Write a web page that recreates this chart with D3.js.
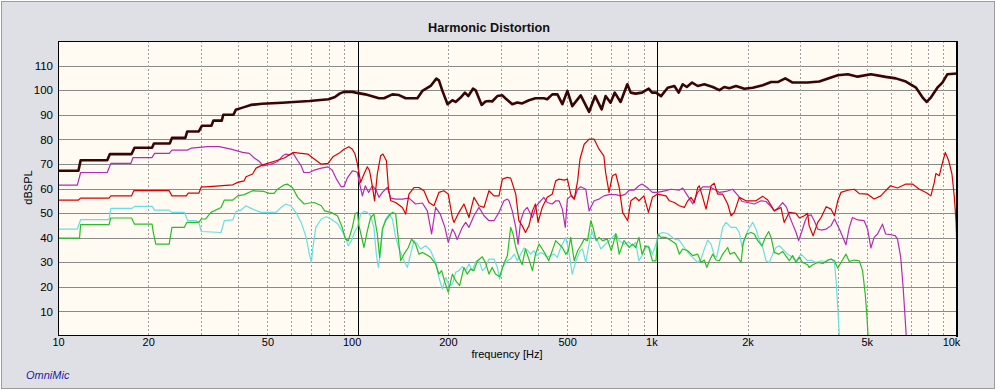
<!DOCTYPE html>
<html>
<head>
<meta charset="utf-8">
<script src="https://cdn.jsdelivr.net/npm/d3@7/dist/d3.min.js"></script>
<style>
  html, body { margin: 0; padding: 0; background: #ffffff; }
  svg { display: block; }
  text { font-family: "Liberation Sans", Arial, sans-serif; }
</style>
</head>
<body>
<svg id="chart" width="997" height="390"></svg>
<script>
// ---------- DATA ([frequency Hz, dBSPL]) ----------
const fundamental = [[10,67.2],[11.7,67.2],[11.9,71.5],[14.6,71.5],[14.9,74],[17.6,74],[18,76.6],[20.6,76.6],[20.9,78.3],[23.6,78.3],[24,80.6],[26.6,80.6],[27,83.2],[29.5,83.2],[30.2,85.5],[32.5,85.5],[33,87.6],[35.2,87.6],[35.6,90],[38.5,90],[39.2,92],[41.3,92.9],[44,94],[48,94.5],[56,94.9],[69,95.6],[80,96.3],[84,97.2],[87,98.6],[90,99.3],[96,99.3],[98.5,99],[106,98.3],[117.8,96.7],[122.4,96.7],[130.6,98.3],[137.4,98],[144.6,96.7],[158.2,96.7],[164.4,99.7],[175.2,101.7],[183,104.7],[186.7,104],[191.8,99.7],[199.5,94.3],[207,95.9],[212.3,95.2],[220.6,97],[228,99],[234,97.6],[242.6,100.6],[247.8,99.9],[259.3,94],[267,95.4],[274,95.6],[281,95.4],[292.5,97.6],[304,97.9],[311,96.7],[328,94.3],[341,95],[354,94.6],[373,95.9],[392,96.7],[418,96.7],[429,96.3],[446,98.3],[464,98.3],[482,94.3],[501,99.7],[520,93.5],[555,97.9],[592,91.2],[620,97.6],[652,92.2],[672,97.6],[698,94.9],[721,99],[754,95.2],[794,102.4],[815,99],[846,98.6],[889,99],[936,100.6],[960,99],[990,99],[1029,97.6],[1083,101],[1140,101.7],[1178,99],[1215,102.4],[1254,101.3],[1306,103.1],[1364,101.7],[1435,102.4],[1531,101.3],[1611,100],[1673,101.3],[1738,100.8],[1830,101.7],[1951,100.6],[2081,101],[2248,102],[2397,103.3],[2522,103.3],[2673,104.8],[2828,103.1],[2976,103.1],[3174,103.1],[3470,103.5],[4000,106.1],[4320,106.5],[4660,105.5],[5160,106.5],[5780,105.4],[6250,104.8],[6750,103.5],[7300,101],[7680,97],[7920,95.2],[8180,97],[8600,101],[8940,103.1],[9290,106.5],[10000,106.8]];

const redHarmonic = [[10,55.3],[11.7,55.3],[11.9,56.1],[14.8,56.1],[15,57],[17.6,57],[17.9,59.1],[23.5,59.1],[24,57],[26.8,57],[27.2,58.1],[29.5,58.1],[30.1,60.7],[31.1,60.7],[38.3,61.5],[39.8,62.5],[41.8,63.1],[42.4,64.8],[44.6,65.9],[45.8,68.3],[48.2,69.6],[53.4,71.3],[56.9,72.4],[59.8,74],[60.9,74.7],[64.8,74.3],[68.2,74],[70.9,72.4],[75.6,69.9],[79.6,70.2],[82.7,72.9],[86.6,74.3],[90,76],[93.5,77],[96,76],[98,74],[99.8,70],[102.3,62.5],[105,65.9],[107.7,68.8],[109.6,67.2],[111.9,61.1],[113.9,55],[116.3,65.9],[119.3,73.3],[121.4,74],[124.7,71.3],[126.6,60.4],[128.9,55],[133.9,54.3],[141,52.3],[144.6,49.6],[148.3,57.7],[154.1,60.4],[160.1,60.4],[166.4,59.1],[172.9,54.3],[179.7,53],[186.7,58.4],[194,59.1],[200.6,57.7],[207,48.2],[209.6,46.2],[217.8,50.3],[226.3,53.7],[235.2,48.2],[244.4,56.4],[254,53],[264,52.3],[274.3,59.1],[285,57],[296.2,57],[304,63.8],[316,64.5],[324,64.2],[337,57.7],[345,46.9],[354,44.9],[363,42.1],[373,44.9],[383,50.9],[392,53.7],[400,46.2],[413,52.3],[429,56.4],[446,57.7],[458,63.1],[470,63.8],[489,63.4],[501,63.8],[514,57.7],[528,55.7],[542,63.1],[552,72],[570,78],[592,80.1],[615,80.1],[639,76],[663,73.3],[672,66.5],[690,58.4],[708,65.2],[727,65.9],[746,60.4],[766,50.3],[796,46.9],[816,55],[846,56.4],[868,55],[902,57],[934,50.3],[963,56.4],[1000,57.7],[1069,57],[1097,55],[1140,54.3],[1184,53],[1230,52.3],[1263,55],[1295,56.4],[1329,54.3],[1364,60.4],[1381,61.1],[1417,56.4],[1454,51.6],[1511,61.1],[1549,62.1],[1590,57.7],[1652,57.7],[1717,53.7],[1762,48.9],[1807,50.3],[1877,56.4],[1977,55],[2134,55],[2248,56.8],[2336,55.3],[2456,50.9],[2585,52.3],[2650,46.2],[2757,50.3],[2904,49.9],[2976,48],[3094,48.9],[3174,49.9],[3210,44.9],[3310,40.8],[3430,46.2],[3520,48.2],[3660,52.6],[3800,51.6],[3900,48.9],[4000,55],[4100,58.4],[4320,59.3],[4540,59.7],[4720,57.9],[5030,57.7],[5290,55.7],[5570,57],[5780,59.1],[6000,61.1],[6330,60.2],[6750,61.8],[7100,61.8],[7490,59.7],[7880,58.4],[8180,57],[8400,62.5],[8500,66.1],[8730,65.2],[8920,69.9],[9140,74.7],[9380,71.3],[9620,65.9],[9800,56.4],[9930,46.2],[10000,34.7]];

const magentaHarmonic = [[10,61.4],[11.6,61.4],[11.9,66.5],[14.6,66.5],[15,70.2],[17.5,70.2],[17.8,72.6],[20.6,72.6],[21,74.3],[23.5,74.3],[24,75.6],[27,75.6],[27.8,76.4],[31.6,77],[34.5,77],[37.8,76],[41.3,74.7],[43.5,74.3],[45.2,72.4],[47,71],[48.2,69.2],[51.4,69.9],[54.1,71],[56.2,73.3],[57.6,74],[59,73.7],[60.9,74.3],[63.1,71.3],[64.8,69.2],[66.1,66.5],[69,66.5],[71.7,67.5],[75.6,68.3],[79.6,68.8],[82.2,67.5],[85,63.8],[88,60.8],[90,60.8],[92.3,64.2],[96,67.2],[98.5,66.9],[99.8,66.5],[101,63.1],[103.7,57],[106,61.1],[108.8,58.4],[111.9,61.1],[114.8,59.7],[117.8,56.4],[120.9,58.4],[125.6,60.4],[128.9,56.1],[133.9,55.7],[141,55.7],[148.3,56.1],[156,53.7],[164.4,54.1],[170.8,50.9],[176.5,41.5],[182,52.3],[188.6,49.6],[195.5,44.2],[200.6,38.1],[207,43.5],[211.2,41.7],[214.7,39.2],[223.5,44.2],[229.3,46.2],[235.2,44.2],[244.4,48.9],[254,52.3],[264,48.9],[274.3,46.9],[285,46.9],[296.2,50.3],[307.7,55],[316,55.7],[320,55],[328,50.9],[337,44.2],[343,37.4],[350,46.9],[359,50.9],[368,52.3],[383,48.2],[394,52.8],[408,55],[418,56.4],[429,54.3],[446,53.7],[458,55],[470,55],[482,51.6],[493,44.2],[501,55.7],[514,57],[528,55.7],[542,59.7],[555,60.7],[577,59.7],[592,50.9],[615,55],[639,55.7],[663,57],[690,57.5],[727,57.5],[754,57],[783,57.7],[805,59.3],[835,59.3],[868,61.1],[889,61.8],[925,60.4],[963,58.4],[1000,58.4],[1069,59.1],[1111,59.7],[1184,59.3],[1215,60.2],[1263,57],[1313,53.7],[1364,58.4],[1417,60.7],[1492,60.7],[1549,59.7],[1611,58.4],[1695,58.8],[1782,59.7],[1855,57.3],[1918,54.7],[2002,54.3],[2107,53.7],[2219,55],[2306,54.7],[2397,52.6],[2456,50.9],[2540,52.3],[2619,54.3],[2700,52.3],[2757,48.9],[2828,45.5],[2904,42.1],[2962,38.8],[3040,42.8],[3115,46.9],[3174,48.9],[3260,49.3],[3340,46.9],[3430,43.5],[3520,43.1],[3660,43.5],[3800,44.9],[3900,47.6],[4050,43.5],[4260,37.1],[4370,44.2],[4480,48.2],[4660,47.2],[4900,46.9],[5030,43.5],[5160,35.8],[5290,40.1],[5430,41.5],[5640,45.5],[5780,41.5],[6000,41.2],[6220,40.8],[6330,39.4],[6490,32],[6610,19.8],[6700,8.9],[6770,0]];

const greenHarmonic = [[10,39.8],[11.8,39.8],[11.9,45.3],[14.8,45.3],[15,48],[17.6,48],[18,45.5],[20.6,45.5],[20.8,42.1],[21.2,37.4],[23.5,37.4],[24,44.2],[26.4,44.2],[26.9,46.2],[29.5,46.2],[30.1,47.6],[31.1,47.6],[32.4,50.3],[35,52.3],[35.9,55.3],[38.3,55.3],[39.8,57],[41.8,57.5],[44.6,59.1],[48.7,58.8],[50.6,58],[52.6,58],[54,59.7],[56.9,61.5],[58.3,61.8],[60.7,60.2],[63.1,56.4],[66.3,53.7],[69,54.1],[71.7,54.3],[75.6,53],[77.6,50.9],[81.4,50.3],[85.6,48.9],[88.8,44.2],[91,39.4],[93.1,38.8],[96,44.2],[98,49.6],[99.8,50.3],[101,44.9],[105,36],[107.7,42.8],[110.5,48.2],[113.3,49.6],[116.3,41.5],[118.4,32],[120.9,43.5],[124,46.9],[127.3,48.9],[130.6,50.3],[133.9,49.6],[139.2,30.6],[142.7,33.3],[147.6,36],[151.3,39.4],[156,37.4],[160.1,33.3],[164.4,34],[168.6,33.3],[175.2,32],[182,29.3],[186.7,25.2],[190.6,26.6],[195.5,21.8],[200.6,17.8],[207,25.2],[212.3,22.5],[218.9,20.5],[226.3,27.9],[232.1,25.2],[238,27.2],[244.4,26.6],[250.9,30.6],[260.6,32.2],[267,29.9],[274.3,25.2],[281,27.9],[288.4,25.2],[297.6,24.1],[307.7,29.5],[316,32.7],[324,44.2],[330,41.5],[337,36],[345,32],[354,29],[363,35.4],[371,32],[383,26.6],[392,33.3],[403,37.4],[413,35.4],[423,33.3],[434,30.6],[446,34.7],[458,38.8],[470,37.4],[482,36],[495,33.3],[505,34.7],[514,40.1],[528,30.6],[542,34.7],[555,36.7],[570,39.4],[585,38.8],[600,46.9],[610,44.2],[625,38.8],[639,40.1],[656,38.8],[681,39.4],[702,34.7],[727,41.5],[746,33.3],[774,38.8],[805,36],[827,37.4],[846,36],[868,40.1],[889,33.3],[914,36.7],[936,36],[963,30.6],[990,30.6],[1003,41.5],[1029,40.1],[1069,40.1],[1111,38.8],[1154,37.4],[1184,33.3],[1215,35.4],[1263,34.7],[1313,32.7],[1364,33.3],[1399,29.9],[1435,30.9],[1462,27.9],[1492,30.6],[1531,33.3],[1570,30.9],[1611,30.6],[1652,33.3],[1717,36],[1747,33.3],[1807,34],[1855,32],[1903,29.9],[1935,38.1],[1986,41.5],[2054,42.1],[2107,41.5],[2162,38.8],[2235,36.7],[2293,40.1],[2352,42.5],[2397,40.1],[2456,34],[2540,33.3],[2619,34.4],[2700,32.2],[2757,30.6],[2828,32.7],[2904,29.9],[2976,32],[3054,29.9],[3174,29],[3210,27.9],[3300,29],[3430,29.9],[3570,29.5],[3710,30.9],[3800,31.3],[3900,30.6],[4000,27.6],[4100,29.9],[4260,33.3],[4370,30.3],[4540,30.9],[4720,30.6],[4840,26.6],[4940,17.1],[5000,8.9],[5050,0]];

const cyanHarmonic = [[10,43.5],[11.6,43.5],[11.9,47.3],[14.8,47.3],[15,51.9],[17.6,51.9],[18,52.7],[20.6,52.7],[21,51.2],[23.5,51.2],[24,50.3],[26.4,50.3],[27.1,46.9],[28.9,46.9],[29.5,46.2],[30.1,42.5],[35,42.1],[35.9,46.9],[38.3,47.2],[39.3,50.7],[40.8,51.2],[42.4,53],[44.6,51.6],[47.6,50.3],[53.4,50.3],[55.5,52.3],[57.6,53.7],[59.8,53],[62.2,50.3],[64.8,46.2],[67.3,40.1],[69,33.3],[70.1,29.9],[70.9,36],[72.5,44.2],[75.6,47.6],[78.6,48.5],[81.4,47.6],[85.6,45.8],[89.3,42.1],[91.4,39.4],[93.1,36.7],[95.5,39],[98,42.8],[99.8,44.2],[102.3,49.6],[105,50.7],[107.7,50.3],[110.5,48.9],[113.3,44.2],[115.4,33.3],[117.2,27.9],[119.3,34.7],[121.4,44.2],[124,47.6],[127.3,49.6],[130.6,47.6],[133.9,40.1],[137.4,35.4],[142.7,30.6],[146.5,27.9],[150.2,33.3],[154.1,38.8],[158.2,37.4],[162.2,35.4],[168.6,36.7],[175.2,34.7],[182,29.9],[186.7,23.8],[191.8,19.1],[196.7,23.8],[201.9,20.5],[207,21.1],[212.3,25.9],[217.8,26.6],[223.5,28.2],[229.3,26.6],[235.2,29.3],[241.4,26.6],[247.8,30.4],[254,30.6],[260.6,26.6],[267,27.9],[274.3,31.3],[285,31.3],[292.5,27.9],[297.6,23.1],[304,27.9],[312,29.9],[316,30.6],[324,31.3],[333,33.3],[341,30.6],[350,33.3],[359,35.8],[368,35],[378,33.3],[387,34.7],[397,32.7],[408,34],[418,33.3],[429,32],[440,32.7],[452,33.3],[464,32],[476,36],[495,40.1],[508,33.3],[520,25.2],[535,30.6],[552,34.7],[563,35.4],[577,29.9],[589,36],[604,42.8],[615,40.1],[631,38.8],[648,35.4],[663,36.7],[690,38.8],[708,40.1],[727,41.7],[746,38.8],[774,37.4],[805,38.1],[827,36.7],[846,38.1],[868,30.6],[889,32.7],[914,36],[936,36.7],[963,33.3],[990,37.4],[1011,41.5],[1042,42.1],[1083,41.7],[1140,39.4],[1184,39],[1230,36],[1279,33.3],[1329,31.3],[1364,29.9],[1399,31.3],[1435,35.4],[1472,39],[1511,37.4],[1549,32.7],[1578,32],[1611,37.4],[1652,44.2],[1695,46.2],[1762,44.2],[1830,44.2],[1877,42.1],[1918,36],[1951,38.8],[2002,42.8],[2081,46.2],[2134,43.5],[2190,38.8],[2248,36],[2306,30.6],[2365,29.9],[2427,33.3],[2489,36],[2553,36.7],[2650,34.7],[2720,33.3],[2828,32],[2904,30.6],[3016,33.3],[3094,32],[3174,30.6],[3260,30.9],[3380,29.9],[3520,30.6],[3660,30.3],[3800,31.3],[3900,29.9],[3950,22.5],[4000,11.7],[4050,0]];

const yTicks = [10, 20, 30, 40, 50, 60, 70, 80, 90, 100, 110];
const xTickValues = [10, 20, 50, 100, 200, 500, 1000, 2000, 5000, 10000];
const xTickLabels = ["10", "20", "50", "100", "200", "500", "1k", "2k", "5k", "10k"];
const minorGrid = [20, 30, 40, 50, 60, 70, 80, 90, 200, 300, 400, 500, 600, 700, 800, 900, 2000, 3000, 4000, 5000, 6000, 7000, 8000, 9000];
const majorGrid = [100, 1000];

// ---------- LAYOUT ----------
const W = 997, H = 390;
const L = 58, R = 957, T = 41, B = 336;

const svg = d3.select("#chart");

svg.append("rect").attr("x", 0).attr("y", 0).attr("width", W).attr("height", H).attr("fill", "#ffffff");
svg.append("rect").attr("x", 1.5).attr("y", 1.5).attr("width", 993).attr("height", 387)
  .attr("fill", "#dfe0e5").attr("stroke", "#9c9c9c").attr("stroke-width", 1);

const x = d3.scaleLog().domain([10, 10000]).range([L, R]);
const y = d3.scaleLinear().domain([0, 120]).range([B, T]);

// plot background
svg.append("rect").attr("x", L).attr("y", T).attr("width", R - L).attr("height", B - T).attr("fill", "#fffaf2");

// horizontal grid
svg.append("g").selectAll("line").data(yTicks).join("line")
  .attr("x1", L).attr("x2", R)
  .attr("y1", d => Math.round(y(d)) + 0.5).attr("y2", d => Math.round(y(d)) + 0.5)
  .attr("stroke", "#8a8a8a").attr("stroke-width", 1);

// minor vertical grid (dotted)
svg.append("g").selectAll("line").data(minorGrid).join("line")
  .attr("x1", d => Math.round(x(d)) + 0.5).attr("x2", d => Math.round(x(d)) + 0.5)
  .attr("y1", T).attr("y2", B)
  .attr("stroke", "#a0a0a0").attr("stroke-width", 1).attr("stroke-dasharray", "2,2");

// major vertical grid
svg.append("g").selectAll("line").data(majorGrid).join("line")
  .attr("x1", d => Math.round(x(d)) + 0.5).attr("x2", d => Math.round(x(d)) + 0.5)
  .attr("y1", T).attr("y2", B)
  .attr("stroke", "#000000").attr("stroke-width", 1);

// clip
svg.append("clipPath").attr("id", "plotclip")
  .append("rect").attr("x", L).attr("y", T).attr("width", R - L).attr("height", B - T);

const line = d3.line().x(d => x(d[0])).y(d => y(d[1]));

const series = [
  { data: cyanHarmonic, color: "#66e0e0", w: 1.2 },
  { data: greenHarmonic, color: "#26bf26", w: 1.2 },
  { data: magentaHarmonic, color: "#b42cb4", w: 1.2 },
  { data: redHarmonic, color: "#d80000", w: 1.2 },
  { data: fundamental, color: "#380404", w: 2.6 }
];

const gLines = svg.append("g").attr("clip-path", "url(#plotclip)");
series.forEach(s => {
  gLines.append("path").attr("d", line(s.data))
    .attr("fill", "none").attr("stroke", s.color).attr("stroke-width", s.w)
    .attr("stroke-linejoin", "round");
});

// plot frame
svg.append("rect").attr("x", L + 0.5).attr("y", T + 0.5).attr("width", R - L - 1).attr("height", B - T - 1)
  .attr("fill", "none").attr("stroke", "#000").attr("stroke-width", 1);
svg.append("line").attr("x1", R).attr("x2", R).attr("y1", T).attr("y2", B + 1)
  .attr("stroke", "#000").attr("stroke-width", 2);

// axes (labels only)
const yAxis = d3.axisLeft(y).tickValues(yTicks).tickSize(0).tickPadding(5);
const gy = svg.append("g").attr("transform", `translate(${L},0)`).call(yAxis);
gy.select(".domain").remove();
gy.selectAll("text").attr("font-size", "11.5px").attr("fill", "#000")
  .attr("font-family", "'Liberation Sans', Arial, sans-serif");

const xAxis = d3.axisBottom(x).tickValues(xTickValues).tickSize(0)
  .tickFormat((d, i) => xTickLabels[i]);
const gx = svg.append("g").attr("transform", `translate(0,${B})`).call(xAxis);
gx.select(".domain").remove();
gx.selectAll("text").attr("font-size", "11px").attr("fill", "#000")
  .attr("font-family", "'Liberation Sans', Arial, sans-serif")
  .attr("y", 9.5).attr("dy", null)
  .attr("dx", (d, i) => (i > 0 && [100, 1000, 10000].includes(d)) ? -6 : 0);

// titles
svg.append("text").attr("x", 489).attr("y", 32).attr("text-anchor", "middle")
  .attr("font-size", "12.7px").attr("font-weight", "bold").attr("fill", "#111").text("Harmonic Distortion");
svg.append("text").attr("x", 507).attr("y", 358).attr("text-anchor", "middle")
  .attr("font-size", "11px").attr("fill", "#000").text("frequency [Hz]");
svg.append("text").attr("transform", "translate(31.5,187.5) rotate(-90)").attr("text-anchor", "middle")
  .attr("font-size", "11px").attr("fill", "#000").text("dBSPL");
svg.append("text").attr("x", 26).attr("y", 378.5)
  .attr("font-size", "11px").attr("font-style", "italic").attr("fill", "#2020a8").text("OmniMic");
</script>
</body>
</html>
